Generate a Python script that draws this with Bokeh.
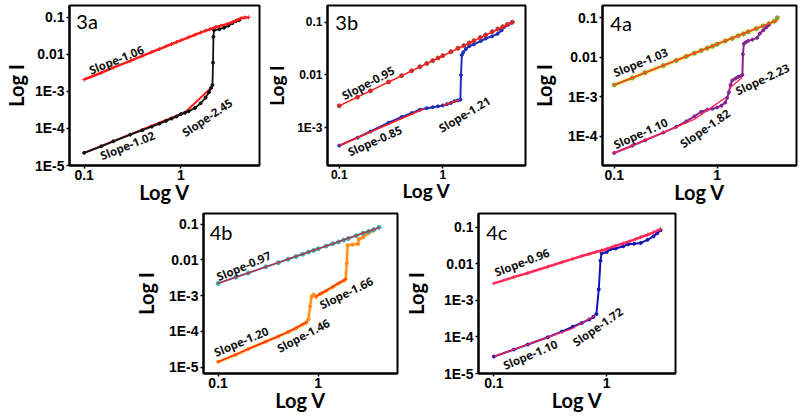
from bokeh.plotting import figure
from bokeh.layouts import column, row
from bokeh.models import Range1d, FixedTicker, Label, Spacer, ColumnDataSource
from bokeh.core.properties import value
from bokeh.embed import file_html
from bokeh.resources import INLINE

# ---------------- ticks ----------------
x_ticks = [0.1, 1]
x_tick_labels = ["0.1", "1"]
y_ticks = [1e-5, 1e-4, 1e-3, 1e-2, 1e-1]
y_tick_labels = ["1E-5", "1E-4", "1E-3", "0.01", "0.1"]

# ---------------- panel 3a ----------------
v_3a_up = [0.1, 0.15, 0.2, 0.3, 0.4, 0.5, 0.6, 0.7, 0.8, 0.9, 1.0, 1.2, 1.4, 1.6, 1.8, 2.0, 2.3, 2.6, 3.0, 3.4, 3.8, 4.2, 4.6, 5.0]
i_3a_up = [2.1e-3, 3.2e-3, 4.4e-3, 6.7e-3, 9.1e-3, 1.16e-2, 1.4e-2, 1.65e-2, 1.9e-2, 2.15e-2, 2.4e-2, 2.9e-2, 3.4e-2, 3.9e-2, 4.4e-2, 4.8e-2, 5.5e-2, 6.0e-2, 6.6e-2, 7.5e-2, 8.5e-2, 9.5e-2, 0.1, 0.1]
v_3a_lo = [0.1, 0.15, 0.2, 0.3, 0.4, 0.5, 0.6, 0.7, 0.8, 0.9, 1.0, 1.1, 1.2, 1.4, 1.6, 1.8, 1.95, 2.05, 2.12, 2.15, 2.17, 2.2, 2.5, 2.8, 3.1, 3.4, 3.7, 4.0]
i_3a_lo = [2.2e-5, 3.3e-5, 4.5e-5, 6.8e-5, 9.0e-5, 1.12e-4, 1.35e-4, 1.6e-4, 1.85e-4, 2.1e-4, 2.45e-4, 2.65e-4, 2.9e-4, 3.6e-4, 4.8e-4, 6.8e-4, 9.5e-4, 1.25e-3, 1.5e-3, 6e-3, 3e-2, 4.5e-2, 4.8e-2, 5.3e-2, 6.0e-2, 7.0e-2, 8.0e-2, 8.5e-2]
fit_3a_v = [[0.1, 1.1], [1.1, 2.1]]
fit_3a_i = [[2.2e-5, 2.7e-4], [2.7e-4, 1.32e-3]]
slope_3a_txt = ["Slope-1.06", "Slope-1.02", "Slope-2.45"]
slope_3a_v = [0.215, 0.28, 1.87]
slope_3a_i = [7.2e-3, 3.5e-5, 2.0e-4]
slope_3a_ang = [22, 22, 34]

# ---------------- panel 3b ----------------
v_3b_up = [0.1, 0.15, 0.2, 0.3, 0.4, 0.5, 0.6, 0.7, 0.8, 0.9, 1.0, 1.2, 1.4, 1.6, 1.8, 2.0, 2.3, 2.6, 3.0, 3.4, 3.8, 4.2, 4.7]
i_3b_up = [2.6e-3, 3.8e-3, 5.0e-3, 7.4e-3, 9.7e-3, 1.2e-2, 1.43e-2, 1.65e-2, 1.87e-2, 2.1e-2, 2.32e-2, 2.76e-2, 3.2e-2, 3.6e-2, 4.05e-2, 4.47e-2, 5.1e-2, 5.75e-2, 6.6e-2, 7.4e-2, 8.2e-2, 9.0e-2, 0.1]
v_3b_lo = [0.1, 0.15, 0.2, 0.3, 0.4, 0.5, 0.6, 0.7, 0.8, 0.9, 1.0, 1.1, 1.2, 1.3, 1.4, 1.48, 1.5, 1.53, 1.58, 1.67, 1.8, 2.0, 2.33, 2.6, 3.0, 3.38, 3.7, 3.9, 4.3, 4.6]
i_3b_lo = [4.6e-4, 6.5e-4, 8.5e-4, 1.25e-3, 1.6e-3, 1.9e-3, 2.2e-3, 2.35e-3, 2.45e-3, 2.55e-3, 2.65e-3, 2.8e-3, 2.95e-3, 3.2e-3, 3.3e-3, 3.4e-3, 1.0e-2, 2.4e-2, 2.7e-2, 3.1e-2, 3.5e-2, 3.8e-2, 4.4e-2, 4.9e-2, 5.4e-2, 6.0e-2, 7.0e-2, 8.0e-2, 9.0e-2, 9.8e-2]
fit_3b_v = [[0.1, 4.7], [0.1, 0.66], [1.0, 1.45]]
fit_3b_i = [[2.6e-3, 0.1], [4.6e-4, 2.3e-3], [2.65e-3, 3.35e-3]]
slope_3b_txt = ["Slope-0.95", "Slope-0.85", "Slope-1.21"]
slope_3b_v = [0.19, 0.22, 1.62]
slope_3b_i = [7.1e-3, 5.7e-4, 1.8e-3]
slope_3b_ang = [28, 24, 31]

# ---------------- panel 4a ----------------
v_4a_up = [0.1, 0.15, 0.2, 0.3, 0.4, 0.5, 0.6, 0.7, 0.8, 0.9, 1.0, 1.2, 1.4, 1.6, 1.8, 2.0, 2.4, 2.8, 3.2, 3.6, 3.85]
i_4a_up = [2.0e-3, 3.0e-3, 4.1e-3, 6.2e-3, 8.3e-3, 1.05e-2, 1.27e-2, 1.48e-2, 1.7e-2, 1.9e-2, 2.14e-2, 2.6e-2, 3.0e-2, 3.5e-2, 3.9e-2, 4.4e-2, 5.3e-2, 6.2e-2, 7.1e-2, 8.2e-2, 0.1]
v_4a_lo = [0.1, 0.15, 0.2, 0.3, 0.4, 0.5, 0.6, 0.7, 0.8, 0.9, 1.0, 1.1, 1.2, 1.25, 1.3, 1.35, 1.4, 1.5, 1.6, 1.7, 1.76, 1.78, 1.82, 1.9, 2.0, 2.2, 2.45, 2.6, 2.8, 3.0, 3.15]
i_4a_lo = [3.8e-5, 5.8e-5, 8e-5, 1.25e-4, 1.75e-4, 2.4e-4, 3.2e-4, 4.2e-4, 4.7e-4, 5.0e-4, 5.4e-4, 6.0e-4, 7.2e-4, 9.5e-4, 1.3e-3, 2.0e-3, 2.6e-3, 2.9e-3, 3.2e-3, 3.4e-3, 3.6e-3, 1.2e-2, 2.2e-2, 2.4e-2, 2.6e-2, 2.8e-2, 3.1e-2, 4.0e-2, 4.8e-2, 5.7e-2, 6.5e-2]
fit_4a_v = [[0.1, 3.85], [0.1, 0.6], [0.6, 1.2], [1.3, 1.75]]
fit_4a_i = [[2.0e-3, 8.7e-2], [3.8e-5, 2.7e-4], [2.7e-4, 9.5e-4], [1.6e-3, 3.1e-3]]
slope_4a_txt = ["Slope-1.03", "Slope-1.10", "Slope-1.82", "Slope-2.23"]
slope_4a_v = [0.18, 0.18, 0.76, 2.75]
slope_4a_i = [7.5e-3, 1.2e-4, 1.6e-4, 2.8e-3]
slope_4a_ang = [22, 24, 35, 25]

# ---------------- panel 4b ----------------
v_4b_up = [0.1, 0.15, 0.2, 0.3, 0.4, 0.5, 0.6, 0.7, 0.8, 0.9, 1.0, 1.2, 1.4, 1.6, 1.8, 2.0, 2.4, 2.8, 3.2, 3.6, 4.06]
i_4b_up = [2.2e-3, 3.3e-3, 4.3e-3, 6.4e-3, 8.4e-3, 1.05e-2, 1.25e-2, 1.45e-2, 1.66e-2, 1.85e-2, 2.05e-2, 2.45e-2, 2.84e-2, 3.2e-2, 3.6e-2, 4.0e-2, 4.8e-2, 5.6e-2, 6.3e-2, 7.1e-2, 8.2e-2]
v_4b_lo = [0.1, 0.15, 0.2, 0.3, 0.4, 0.5, 0.6, 0.7, 0.76, 0.8, 0.83, 0.86, 0.9, 0.95, 1.04, 1.1, 1.2, 1.4, 1.6, 1.8, 1.88, 1.93, 1.97, 2.2, 2.5, 2.55, 2.8, 3.16, 3.55]
i_4b_lo = [1.4e-5, 2.2e-5, 3.2e-5, 5.2e-5, 7.2e-5, 9.5e-5, 1.2e-4, 1.55e-4, 1.75e-4, 2.2e-4, 5e-4, 9.5e-4, 1.07e-3, 9.2e-4, 1.1e-3, 1.2e-3, 1.35e-3, 1.75e-3, 2.2e-3, 2.6e-3, 2.9e-3, 8e-3, 2.6e-2, 2.7e-2, 2.8e-2, 3.8e-2, 4.3e-2, 5.6e-2, 6.6e-2]
fit_4b_v = [[0.1, 4.06], [0.1, 0.45], [0.45, 0.78], [0.95, 1.9]]
fit_4b_i = [[2.2e-3, 8.1e-2], [1.4e-5, 8.4e-5], [8.4e-5, 1.87e-4], [9.5e-4, 3.0e-3]]
slope_4b_txt = ["Slope-0.97", "Slope-1.20", "Slope-1.46", "Slope-1.66"]
slope_4b_v = [0.18, 0.17, 0.71, 1.91]
slope_4b_i = [6.8e-3, 5.2e-5, 7.7e-5, 1.2e-3]
slope_4b_ang = [23, 23, 28, 26]

# ---------------- panel 4c ----------------
v_4c_up = [0.1, 0.15, 0.2, 0.3, 0.4, 0.5, 0.6, 0.7, 0.8, 0.9, 1.0, 1.2, 1.4, 1.6, 1.8, 2.0, 2.3, 2.6, 3.0]
i_4c_up = [2.9e-3, 4.3e-3, 5.6e-3, 8.3e-3, 1.1e-2, 1.36e-2, 1.62e-2, 1.85e-2, 2.1e-2, 2.3e-2, 2.55e-2, 3.1e-2, 3.6e-2, 4.1e-2, 4.7e-2, 5.3e-2, 6.2e-2, 7.2e-2, 8.8e-2]
v_4c_lo = [0.1, 0.15, 0.2, 0.3, 0.4, 0.5, 0.6, 0.7, 0.76, 0.81, 0.85, 0.88, 0.9, 1.0, 1.08, 1.2, 1.4, 1.55, 1.75, 2.0, 2.3, 2.6, 2.8, 3.0]
i_4c_lo = [2.9e-5, 4.5e-5, 6.2e-5, 9.8e-5, 1.4e-4, 1.9e-4, 2.4e-4, 3.0e-4, 3.5e-4, 4.2e-4, 2e-3, 1.2e-2, 1.9e-2, 2.1e-2, 2.5e-2, 2.6e-2, 3.0e-2, 3.4e-2, 3.5e-2, 3.7e-2, 4.5e-2, 5.6e-2, 6.8e-2, 8.2e-2]
fit_4c_v = [[0.1, 0.5], [0.5, 0.8]]
fit_4c_i = [[2.9e-5, 1.72e-4], [1.75e-4, 3.9e-4]]
slope_4c_txt = ["Slope-0.96", "Slope-1.10", "Slope-1.72"]
slope_4c_v = [0.177, 0.21, 0.83]
slope_4c_i = [1.1e-2, 3.3e-5, 1.9e-4]
slope_4c_ang = [21, 23, 35]


def make_panel(name, xr, yr, w, h, mbl, mbr, mbt, mbb, ylab_standoff, tick_fs, lab_fs, tag_pos):
    p = figure(width=w, height=h, x_axis_type="log", y_axis_type="log",
               x_range=Range1d(*xr), y_range=Range1d(*yr),
               output_backend="svg", toolbar_location=None,
               min_border_left=mbl, min_border_right=mbr,
               min_border_top=mbt, min_border_bottom=mbb,
               x_axis_label="Log V", y_axis_label="Log I")
    p.grid.visible = False
    p.outline_line_color = "black"
    p.outline_line_width = 2
    p.background_fill_color = "white"
    p.border_fill_color = "white"
    for ax in (p.xaxis[0], p.yaxis[0]):
        ax.axis_line_color = "black"
        ax.axis_line_width = 2
        ax.major_tick_line_color = "black"
        ax.major_tick_line_width = 1.5
        ax.major_tick_in = 0
        ax.major_tick_out = 3
        ax.minor_tick_line_color = None
        ax.major_label_text_font = "Liberation Sans"
        ax.major_label_text_font_style = "bold"
        ax.major_label_text_font_size = tick_fs
        ax.major_label_text_color = "black"
        ax.major_label_standoff = 2
        ax.axis_label_text_font = "Lato"
        ax.axis_label_text_font_style = "bold"
        ax.axis_label_text_font_size = lab_fs
        ax.axis_label_text_color = "black"
    p.xaxis[0].major_label_standoff = 1
    p.xaxis[0].axis_label_standoff = -3
    p.yaxis[0].axis_label_standoff = ylab_standoff
    p.xaxis.ticker = FixedTicker(ticks=x_ticks, minor_ticks=[])
    p.yaxis.ticker = FixedTicker(ticks=y_ticks, minor_ticks=[])
    p.xaxis.major_label_overrides = dict(zip(x_ticks, x_tick_labels))
    p.yaxis.major_label_overrides = dict(zip(y_ticks, y_tick_labels))
    p.add_layout(Label(x=tag_pos[0], y=tag_pos[1], text=name, text_font="Lato",
                       text_font_size="20px", text_color="black",
                       text_align="left", text_baseline="top"))
    return p


def add_slopes(p, txt, vv, ii, ang, fs="11.5px"):
    src = ColumnDataSource(dict(x=vv, y=ii, t=txt, a=ang))
    p.text(x="x", y="y", text="t", angle="a", angle_units="deg", source=src,
           text_font=value("Open Sans"), text_font_style="bold", text_font_size=fs,
           text_color="#111111", text_align="center", text_baseline="middle")


H1 = 206
H2 = 208

# 3a
p1 = make_panel("3a", (0.0705, 6.5), (1e-5, 0.21), 262, H1, 63, 3, 5, 41, 4, "14px", "20px", (0.083, 0.165))
p1.multi_line(fit_3a_v, fit_3a_i, line_color="#ff1a1a", line_width=2)
p1.line(v_3a_lo, i_3a_lo, line_color="#111111", line_width=1.8)
p1.scatter(v_3a_lo, i_3a_lo, size=3, color="#111111")
p1.line(v_3a_up, i_3a_up, line_color="#ff1a1a", line_width=2.5)
p1.scatter(v_3a_up, i_3a_up, size=4, marker="cross", color="#ff1a1a")
add_slopes(p1, slope_3a_txt, slope_3a_v, slope_3a_i, slope_3a_ang)

# 3b
p2 = make_panel("3b", (0.077, 6.3), (1.93e-4, 0.207), 266, H1, 64, 3, 5, 41, 6, "12px", "19px", (0.0916, 0.167))
p2.line(v_3b_lo, i_3b_lo, line_color="#1f2fb8", line_width=2)
p2.scatter(v_3b_lo, i_3b_lo, size=3, color="#1f2fb8")
p2.scatter(v_3b_up, i_3b_up, size=4, color="#b03a3a")
p2.multi_line(fit_3b_v, fit_3b_i, line_color="#ff1a1a", line_width=1.6)
add_slopes(p2, slope_3b_txt, slope_3b_v, slope_3b_i, slope_3b_ang)

# 4a
p3 = make_panel("4a", (0.077, 5.9), (1.84e-5, 0.204), 271, H1, 69, 3, 5, 41, 9, "14px", "20px", (0.0917, 0.152))
p3.line(v_4a_up, i_4a_up, line_color="#f8f6bc", line_width=6)
p3.line(v_4a_up, i_4a_up, line_color="#8d9a3c", line_width=2)
p3.scatter(v_4a_up, i_4a_up, size=4, color="#8d9a3c")
p3.line(v_4a_lo, i_4a_lo, line_color="#862490", line_width=2)
p3.scatter(v_4a_lo, i_4a_lo, size=3, color="#862490")
p3.multi_line(fit_4a_v[:1], fit_4a_i[:1], line_color="#ff4a10", line_width=1.6)
p3.multi_line(fit_4a_v[1:], fit_4a_i[1:], line_color="#ff2050", line_width=1.3)
add_slopes(p3, slope_4a_txt, slope_4a_v, slope_4a_i, slope_4a_ang)

# 4b
p4 = make_panel("4b", (0.0715, 6.2), (6.6e-6, 0.2), 270, H2, 67, 3, 7, 41, 8, "14px", "20px", (0.0824, 0.132))
p4.line(v_4b_lo, i_4b_lo, line_color="#ffe3a8", line_width=4)
p4.line(v_4b_lo, i_4b_lo, line_color="#ff8a1c", line_width=2)
p4.scatter(v_4b_lo, i_4b_lo, size=3, color="#ff8a1c")
p4.line(v_4b_up, i_4b_up, line_color="#3aa8a8", line_width=2)
p4.scatter(v_4b_up, i_4b_up, size=4, color="#3aa8a8")
p4.multi_line(fit_4b_v[:1], fit_4b_i[:1], line_color="#c02848", line_width=1.3)
p4.multi_line(fit_4b_v[1:], fit_4b_i[1:], line_color="#ff3010", line_width=1.5)
add_slopes(p4, slope_4b_txt, slope_4b_v, slope_4b_i, slope_4b_ang)

# 4c
p5 = make_panel("4c", (0.073, 4.07), (1e-5, 0.236), 278, H2, 77, 3, 7, 41, 13, "14px", "20px", (0.0855, 0.152))
p5.line(v_4c_lo, i_4c_lo, line_color="#1414b4", line_width=2)
p5.scatter(v_4c_lo, i_4c_lo, size=3, color="#1414b4")
p5.multi_line(fit_4c_v, fit_4c_i, line_color="#ff2050", line_width=1.3)
p5.line(v_4c_up, i_4c_up, line_color="#ff2a58", line_width=2.5)
p5.scatter(v_4c_up, i_4c_up, size=4, marker="cross", color="#ff2a58")
add_slopes(p5, slope_4c_txt, slope_4c_v, slope_4c_i, slope_4c_ang)

layout = column(
    row(p1, p2, p3, spacing=0),
    row(Spacer(width=130, height=H2), p4, p5, spacing=0),
    spacing=0,
)

open("out.html", "w").write(file_html(layout, INLINE))
